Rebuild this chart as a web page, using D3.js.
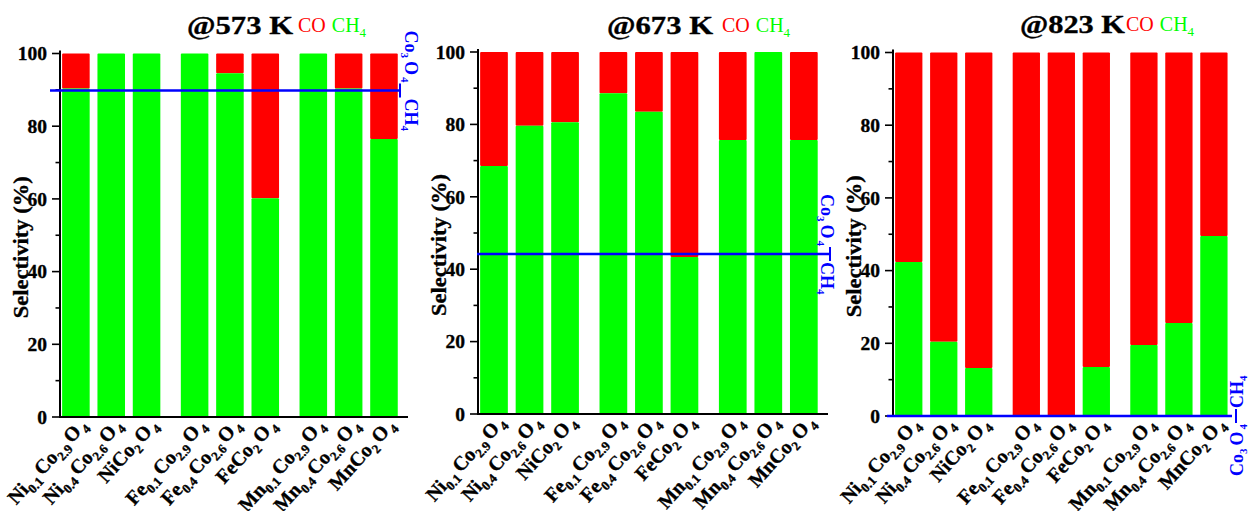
<!DOCTYPE html>
<html><head><meta charset="utf-8">
<script src="https://cdn.jsdelivr.net/npm/d3@7"></script>
<style>body{margin:0;background:#fff} svg{display:block} .hv{stroke:#000;stroke-width:0.35px}</style>
</head><body>
<svg id="c" width="1248" height="511"></svg>
<script>
// ---------- data ----------
const categories = ["Ni0.1Co2.9O4","Ni0.4Co2.6O4","NiCo2O4","Fe0.1Co2.9O4","Fe0.4Co2.6O4","FeCo2O4","Mn0.1Co2.9O4","Mn0.4Co2.6O4","MnCo2O4"];
const groupOf = [0,0,0,1,1,1,2,2,2];
const temperatures = ["@573 K","@673 K","@823 K"];
const ch4_573 = [90.4,100,100,100,94.6,60.2,100,90.4,76.5];
const ch4_673 = [68.5,79.6,80.6,88.6,83.5,43.4,75.7,100,75.7];
const ch4_823 = [42.4,20.4,13.2,0,0,13.5,19.5,25.6,49.5];
const co3o4Ch4 = [89.8,44.2,0];
const yTicks = [0,20,40,60,80,100];
const yMinorTicks = [10,30,50,70,90];
const yLabel = "Selectivity (%)";

// ---------- layout ----------
const panels = [
 {ch4: ch4_573, x0:60,  x1:408,    axEnd:408,  yB:417, yT:53.5, lx0:50,  lx1:399,  sep:400,  labX:405,  rot:90,  tx0:187,  tx1:293,  ty:34, legX:298},
 {ch4: ch4_673, x0:478, x1:828,    axEnd:828,  yB:414, yT:52,   lx0:477, lx1:830,  sep:830,  labX:821,  rot:90,  tx0:607,  tx1:713,  ty:34, legX:722},
 {ch4: ch4_823, x0:893, x1:1237.7, axEnd:1230, yB:416, yT:52.5, lx0:887, lx1:1232, sep:1236, labX:1243, rot:-90, tx0:1020, tx1:1125, ty:33, legX:1126}
];
const RED="#ff0000", GREEN="#00ff00", BLUE="#0000ff";
const serif = "'Liberation Serif','Times New Roman',serif";
const svg = d3.select("#c").style("font-family", serif);
const pos = categories.map((c,i)=> i+1 + groupOf[i]*0.36);

function formula(sel, s, big, small, shift){
  const parts = [...s.matchAll(/([A-Z][a-z]?)([\d.]*)/g)];
  let prevSub = false;
  parts.forEach(p=>{
    sel.append("tspan").attr("font-size",big).attr("dy", prevSub? -shift:0).attr("dx", prevSub?3:0).text(p[1]);
    if(p[2]){ sel.append("tspan").attr("font-size",small).attr("dy",shift).attr("dx", p[2]==="4"&&p[1]==="O"?2:0).text(p[2]); prevSub=true; } else prevSub=false;
  });
}

panels.forEach((P,pi)=>{
  const x = d3.scaleLinear().domain([0.55,10.4]).range([P.x0,P.x1]);
  const y = d3.scaleLinear().domain([0,100]).range([P.yB,P.yT]);
  const unit = x(2)-x(1), bw = unit*0.78;
  const g = svg.append("g");

  // bars
  const bars = g.selectAll("g.bar").data(categories.map((c,i)=>({c, p:pos[i], v:P.ch4[i]}))).join("g");
  bars.append("rect").attr("x",d=>x(d.p)-bw/2).attr("width",bw)
    .attr("y",y(100)).attr("height",d=>y(d.v)-y(100)).attr("fill",RED).attr("rx",1);
  bars.append("rect").attr("x",d=>x(d.p)-bw/2).attr("width",bw)
    .attr("y",d=>y(d.v)).attr("height",d=>y(0)-y(d.v)).attr("fill",GREEN).attr("rx",1);

  // y axis
  g.append("line").attr("x1",P.x0).attr("x2",P.x0).attr("y1",y(0)+1).attr("y2",y(100)-3).attr("stroke","#000").attr("stroke-width",2);
  g.selectAll("line.mj").data(yTicks).join("line").attr("x1",P.x0-8).attr("x2",P.x0).attr("y1",d=>y(d)).attr("y2",d=>y(d)).attr("stroke","#000").attr("stroke-width",1.6);
  g.selectAll("line.mn").data(yMinorTicks).join("line").attr("x1",P.x0-4.5).attr("x2",P.x0).attr("y1",d=>y(d)).attr("y2",d=>y(d)).attr("stroke","#000").attr("stroke-width",1.6);
  g.selectAll("text.tl").data(yTicks).join("text").attr("class","hv").attr("x",P.x0-13).attr("y",d=>y(d)).attr("dy","0.35em")
    .attr("text-anchor","end").attr("font-weight","bold").attr("font-size",19.5).text(d=>d);
  // x axis
  g.append("line").attr("x1",P.x0-1).attr("x2",P.axEnd).attr("y1",y(0)).attr("y2",y(0)).attr("stroke","#000").attr("stroke-width",2);

  // y label
  g.append("text").attr("class","hv").attr("transform",`translate(${P.x0-32},${(y(0)+y(100))/2+12}) rotate(-90)`)
    .attr("text-anchor","middle").attr("font-weight","bold").attr("font-size",22)
    .attr("textLength",142).attr("lengthAdjust","spacingAndGlyphs").text(yLabel);

  // x labels
  categories.forEach((c,i)=>{
    const t = g.append("text").attr("class","hv").attr("transform",`translate(${x(pos[i])+12},${y(0)+9}) rotate(-48)`)
      .attr("text-anchor","end").attr("font-weight","bold");
    formula(t, c, 20, 13, 5);
  });

  // Co3O4 reference line
  const ly = y(co3o4Ch4[pi]);
  g.append("line").attr("x1",P.lx0).attr("x2",P.lx1).attr("y1",ly).attr("y2",ly).attr("stroke",BLUE).attr("stroke-width",2.5);
  g.append("line").attr("x1",P.sep).attr("x2",P.sep).attr("y1",ly-7).attr("y2",ly+7).attr("stroke",BLUE).attr("stroke-width",2);
  const s = P.rot>0?1:-1;
  const t1 = g.append("text").attr("transform",`translate(${P.labX},${ly - s*8}) rotate(${P.rot})`)
    .attr("text-anchor","end").attr("font-weight","bold").attr("fill",BLUE);
  formula(t1,"Co3O4",18,11,4);
  const t2 = g.append("text").attr("transform",`translate(${P.labX},${ly + s*8}) rotate(${P.rot})`)
    .attr("text-anchor","start").attr("font-weight","bold").attr("fill",BLUE);
  formula(t2,"CH4",18,11,4);

  // title
  g.append("text").attr("class","hv").attr("x",P.tx0).attr("y",P.ty).attr("font-weight","bold").attr("font-size",26)
    .attr("textLength",P.tx1-P.tx0).attr("lengthAdjust","spacingAndGlyphs").text(temperatures[pi]);
  const lg = g.append("text").attr("x",P.legX).attr("y",P.ty-2).attr("font-size",20);
  lg.append("tspan").attr("fill",RED).text("CO");
  lg.append("tspan").attr("fill",GREEN).attr("dx",6).text("CH");
  lg.append("tspan").attr("fill",GREEN).attr("font-size",13).attr("dy",5).text("4");
});
</script>
</body></html>
